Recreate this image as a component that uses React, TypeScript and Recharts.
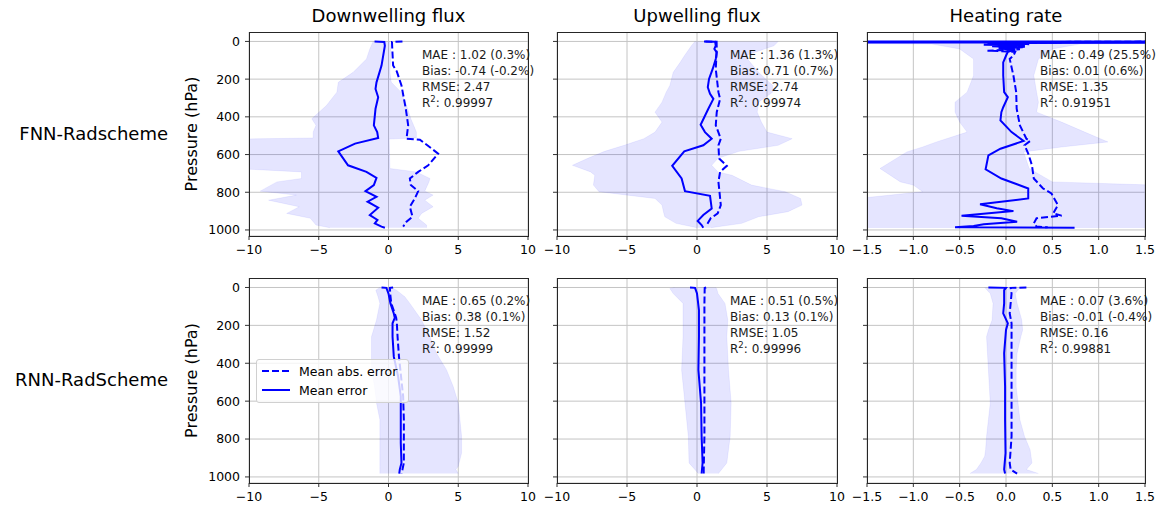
import React from "react";
import { ComposedChart, Line, Area, XAxis, YAxis, CartesianGrid } from "recharts";

type Pt = [number, number];
type Band = [number, number, number];

const P_TICKS = [0, 200, 400, 600, 800, 1000];
const P_DOMAIN = [-50, 1032];
const FLUX_TICKS = [-10, -5, 0, 5, 10];
const HR_TICKS = [-1.5, -1, -0.5, 0, 0.5, 1, 1.5];

const COL_TITLES = ["Downwelling flux", "Upwelling flux", "Heating rate"];
const ROW_LABELS = ["FNN-Radscheme", "RNN-RadScheme"];

// FNN - downwelling flux  [pressure, value]
const FNN_DW_MEAN: Pt[] = [
  [0, -1.0], [3, -0.3], [23, -0.26], [128, -0.5], [217, -0.86], [252, -0.93], [296, -0.74],
  [357, -0.93], [445, -1.05], [481, -0.81], [512, -0.74], [542, -2.4], [583, -3.6], [657, -2.9],
  [692, -1.58], [724, -0.86], [762, -1.05], [794, -1.65], [824, -0.86], [850, -1.5], [882, -0.74],
  [921, -1.34], [947, -0.79], [965, -0.98], [982, -0.5], [988, -0.26],
];
const FNN_DW_MAE: Pt[] = [
  [0, 1.0], [3, 0.25], [23, 0.26], [128, 0.33], [160, 0.6], [234, 0.93], [357, 1.24], [445, 1.41],
  [516, 1.29], [521, 2.25], [595, 3.56], [657, 2.85], [692, 2.13], [727, 1.53], [762, 1.6],
  [794, 2.13], [833, 1.89], [877, 1.53], [930, 1.72], [956, 1.29], [982, 1.05],
];
// [pressure, low, high]
const FNN_DW_BAND: Band[] = [
  [0, -1.1, 0.1], [40, -1.34, 0.15], [93, -1.58, 0.15], [164, -2.54, 0.1], [217, -3.6, 0.2],
  [269, -3.7, 0.9], [340, -4.45, 1.3], [410, -5.5, 1.6], [445, -5.2, 1.8], [481, -5.4, 2.0],
  [512, -5.4, 2.0], [518, -11, 0.05], [674, -11, 0.1], [692, -6.24, 2.0], [727, -6.24, 2.97],
  [745, -8.0, 2.9], [794, -9.2, 2.6], [815, -6.6, 3.2], [842, -8.6, 2.6], [877, -6.4, 3.2],
  [912, -7.3, 2.37], [938, -5.6, 2.13], [974, -5.2, 2.73], [988, -4.2, 2.73],
];

// FNN - upwelling flux
const FNN_UW_MEAN: Pt[] = [
  [0, 0.5], [2, 1.3], [23, 1.34], [40, 1.24], [58, 1.41], [93, 1.34], [146, 1.12], [199, 0.86],
  [243, 0.77], [278, 0.93], [305, 1.17], [357, 0.81], [442, 0.26], [481, 0.57], [516, 1.05],
  [551, 0.45], [583, -0.91], [660, -1.77], [727, -1.1], [794, -0.86], [819, 0.93], [886, 1.05],
  [921, 0.45], [952, 0.05], [974, 0.33], [988, 0.45],
];
const FNN_UW_MAE: Pt[] = [
  [0, 0.6], [2, 1.4], [40, 1.41], [146, 1.34], [269, 1.53], [305, 1.65], [375, 1.41], [445, 1.34],
  [516, 1.7], [551, 1.53], [621, 1.58], [660, 2.13], [692, 1.65], [745, 1.53], [794, 1.6],
  [868, 1.7], [912, 1.48], [938, 0.98], [974, 0.69],
];
const FNN_UW_BAND: Band[] = [
  [0, -0.15, 5.8], [23, -0.4, 5.5], [76, -0.9, 3.4], [111, -1.2, 3.8], [164, -1.7, 4.4],
  [234, -1.94, 5.4], [269, -2.2, 5.4], [322, -2.5, 4.4], [375, -3.0, 4.3], [428, -2.5, 4.6],
  [481, -3.0, 5.0], [516, -3.8, 6.8], [551, -5.2, 5.8], [583, -6.6, 3.0], [620, -7.8, 1.5],
  [657, -8.9, 1.05], [692, -7.6, 1.5], [710, -7.3, 2.5], [762, -7.4, 3.9], [797, -7.0, 6.3],
  [833, -3.0, 7.4], [868, -2.5, 7.5], [903, -2.4, 6.5], [930, -2.3, 4.4], [965, -1.5, 3.2],
  [988, 0, 1.0],
];

// FNN - heating rate
const FNN_HR_MEAN: Pt[] = [
  [0, -2], [1, 2], [2, -2], [3.5, 2], [5, -2], [7, 2], [9, -0.2], [13, 0.22], [17, -0.24],
  [21, 0.2], [26, -0.15], [31, 0.18], [37, -0.08], [44, 0.1], [55, 0.02], [76, 0.0], [111, -0.03],
  [181, -0.03], [269, -0.02], [296, 0.02], [349, -0.03], [375, -0.05], [419, -0.06], [481, 0.06],
  [528, 0.19], [569, -0.06], [604, -0.19], [678, -0.22], [727, -0.05], [780, 0.24], [833, 0.24],
  [864, -0.28], [885, -0.1], [900, 0.08], [924, -0.48], [938, -0.05], [956, 0.12], [970, -0.24],
  [979, -0.35], [985, -0.55], [988, 0.74],
];
const FNN_HR_MAE: Pt[] = [
  [0, 2], [3, 0.3], [6, 0.6], [10, 0.1], [15, 0.25], [20, -0.05], [27, 0.22], [34, 0.05],
  [42, 0.15], [49, -0.2], [55, 0.1], [76, 0.08], [93, 0.04], [181, 0.08], [269, 0.11],
  [357, 0.115], [445, 0.15], [516, 0.22], [528, 0.26], [551, 0.2], [595, 0.24], [657, 0.28],
  [727, 0.3], [780, 0.4], [806, 0.49], [868, 0.56], [912, 0.51], [924, 0.6], [938, 0.33],
  [965, 0.3], [982, 0.33], [986, 0.45],
];
const FNN_HR_BAND: Band[] = [
  [0, -2, 2], [10, -2, 2], [14, -0.8, 0.8], [40, -0.5, 0.5], [93, -0.35, 0.35], [181, -0.35, 0.3],
  [269, -0.42, 0.33], [322, -0.55, 0.35], [375, -0.55, 0.33], [428, -0.5, 0.6], [481, -0.42, 0.85],
  [533, -0.75, 1.1], [560, -0.9, 0.6], [586, -1.07, 0.19], [674, -1.36, 0.25], [745, -1.14, 0.5],
  [762, -1.0, 1.6], [797, -0.9, 1.6], [833, -1.6, 1.6], [990, -1.6, 1.6],
];

// RNN - downwelling flux
const RNN_DW_MEAN: Pt[] = [
  [0, -0.5], [2, -0.15], [32, 0.0], [84, 0.14], [137, 0.38], [160, 0.45], [189, 0.29], [260, 0.29],
  [365, 0.38], [470, 0.69], [575, 0.88], [698, 0.88], [821, 0.88], [926, 0.93], [961, 0.81],
  [982, 0.77],
];
const RNN_DW_MAE: Pt[] = [
  [0, 0.33], [2, 0.1], [32, 0.12], [84, 0.2], [137, 0.45], [160, 0.55], [189, 0.6], [260, 0.65],
  [365, 0.75], [470, 0.9], [575, 1.05], [698, 1.1], [821, 1.1], [926, 1.1], [961, 1.0], [982, 0.93],
];
const RNN_DW_BAND: Band[] = [
  [0, -0.62, 0.2], [14, -0.91, 0.57], [49, -0.75, 1.17], [84, -0.62, 1.53], [172, -0.86, 2.37],
  [260, -1.22, 2.97], [347, -1.22, 3.44], [435, -1.22, 4.16], [523, -1.0, 4.64], [610, -0.86, 5.0],
  [698, -0.62, 5.12], [786, -0.62, 5.24], [874, -0.62, 5.24], [944, -0.62, 5.0], [961, -0.62, 4.83],
  [982, -0.62, 5.0],
];

// RNN - upwelling flux
const RNN_UW_MEAN: Pt[] = [
  [0, -0.5], [2, -0.14], [32, 0.0], [119, 0.14], [260, 0.14], [435, 0.1], [610, 0.29], [786, 0.33],
  [926, 0.4], [982, 0.33],
];
const RNN_UW_MAE: Pt[] = [
  [0, 0.65], [3, 0.55], [84, 0.53], [435, 0.53], [786, 0.53], [961, 0.48], [982, 0.48],
];
const RNN_UW_BAND: Band[] = [
  [0, -1.6, 1.3], [5, -1.94, 1.4], [32, -1.7, 1.5], [84, -1.0, 2.0], [172, -1.0, 2.2],
  [260, -1.0, 2.13], [435, -1.1, 2.25], [610, -0.86, 2.44], [786, -0.62, 2.37], [926, -0.57, 2.13],
  [982, 0.1, 1.53],
];

// RNN - heating rate
const RNN_HR_MEAN: Pt[] = [
  [0, -0.19], [2, 0.0], [14, -0.02], [84, -0.02], [137, -0.03], [189, 0.02], [224, 0.0],
  [347, -0.02], [523, -0.01], [698, -0.01], [874, -0.005], [961, -0.02], [982, -0.01],
];
const RNN_HR_MAE: Pt[] = [
  [0, 0.22], [2, 0.05], [32, 0.06], [137, 0.04], [189, 0.06], [260, 0.06], [435, 0.06], [610, 0.06],
  [786, 0.06], [926, 0.04], [961, 0.05], [982, 0.12],
];
const RNN_HR_BAND: Band[] = [
  [0, -0.23, 0.15], [32, -0.17, 0.1], [84, -0.14, 0.12], [172, -0.15, 0.17], [225, -0.19, 0.18],
  [260, -0.21, 0.16], [347, -0.2, 0.12], [435, -0.19, 0.11], [523, -0.18, 0.11], [610, -0.17, 0.13],
  [698, -0.19, 0.15], [786, -0.21, 0.2], [856, -0.22, 0.26], [891, -0.23, 0.27], [926, -0.27, 0.28],
  [961, -0.32, 0.22], [982, -0.39, 0.35],
];

const FNN_DW_STATS = ["MAE : 1.02 (0.3%)", "Bias: -0.74 (-0.2%)", "RMSE: 2.47", "0.99997"];
const FNN_UW_STATS = ["MAE : 1.36 (1.3%)", "Bias: 0.71 (0.7%)", "RMSE: 2.74", "0.99974"];
const FNN_HR_STATS = ["MAE : 0.49 (25.5%)", "Bias: 0.01 (0.6%)", "RMSE: 1.35", "0.91951"];
const RNN_DW_STATS = ["MAE : 0.65 (0.2%)", "Bias: 0.38 (0.1%)", "RMSE: 1.52", "0.99999"];
const RNN_UW_STATS = ["MAE : 0.51 (0.5%)", "Bias: 0.13 (0.1%)", "RMSE: 1.05", "0.99996"];
const RNN_HR_STATS = ["MAE : 0.07 (3.6%)", "Bias: -0.01 (-0.4%)", "RMSE: 0.16", "0.99881"];

// layout
const PLOT_X = [249, 557, 867];
const PLOT_W = [279, 280, 278];
const PLOT_Y = [32, 278];
const PLOT_H = [204, 205];
const YW = 50;
const XH = 26;
const RM = 14;
const FONT = "DejaVu Sans, sans-serif";
const BLUE = "#0000ff";
const LW = 2;
const DASH = "7 3";

const fluxFmt = (v: number) => (v < 0 ? "\u2212" + Math.abs(v) : String(v));
const hrFmt = (v: number) => (v < 0 ? "\u2212" : "") + Math.abs(v).toFixed(1);
const noLabel = () => "";

interface PanelProps {
  row: number;
  col: number;
  mean: Pt[];
  mae: Pt[];
  band: Band[];
}

function Panel({ row, col, mean, mae, band }: PanelProps) {
  const left = PLOT_X[col];
  const top = PLOT_Y[row];
  const w = PLOT_W[col];
  const h = PLOT_H[row];
  const isHr = col === 2;
  const xMax = isHr ? 1.5 : 10;
  const meanData = mean.map(([p, v]) => ({ p, v }));
  const maeData = mae.map(([p, v]) => ({ p, v }));
  const bandData = band.map(([p, lo, hi]) => ({ p, r: [lo, hi] }));
  const tickStyle = { fontSize: 12.5, fill: "#000", fontFamily: FONT };

  return (
    <div style={{ position: "absolute", left: left - YW, top }}>
      <ComposedChart
        layout="vertical"
        width={YW + w + RM}
        height={h + XH}
        margin={{ top: 0, right: RM, bottom: 0, left: 0 }}
      >
        <CartesianGrid stroke="#c4c4c4" strokeWidth={1} />
        <XAxis
          type="number"
          domain={[-xMax, xMax]}
          ticks={isHr ? HR_TICKS : FLUX_TICKS}
          allowDataOverflow
          interval={0}
          height={XH}
          tickSize={4}
          tickMargin={5}
          axisLine={false}
          tickLine={{ stroke: "#333" }}
          tick={tickStyle}
          tickFormatter={isHr ? hrFmt : fluxFmt}
        />
        <YAxis
          type="number"
          dataKey="p"
          domain={P_DOMAIN}
          ticks={P_TICKS}
          allowDataOverflow
          interval={0}
          width={YW}
          tickSize={4}
          tickMargin={5}
          axisLine={false}
          tickLine={{ stroke: "#333" }}
          tick={tickStyle}
          tickFormatter={col === 0 ? String : noLabel}
        />
        <Area
          data={bandData}
          dataKey="r"
          type="linear"
          fill={BLUE}
          fillOpacity={0.1}
          stroke={BLUE}
          strokeOpacity={0.06}
          isAnimationActive={false}
          dot={false}
          activeDot={false}
        />
        <Line
          data={maeData}
          dataKey="v"
          type="linear"
          stroke={BLUE}
          strokeWidth={LW}
          strokeDasharray={DASH}
          dot={false}
          activeDot={false}
          isAnimationActive={false}
        />
        <Line
          data={meanData}
          dataKey="v"
          type="linear"
          stroke={BLUE}
          strokeWidth={LW}
          dot={false}
          activeDot={false}
          isAnimationActive={false}
        />
      </ComposedChart>
      <div
        style={{
          position: "absolute",
          left: YW - 0.5,
          top: -0.5,
          width: w + 1,
          height: h + 1,
          border: "1px solid #262626",
          boxSizing: "border-box",
          pointerEvents: "none",
        }}
      />
    </div>
  );
}

function Stats({ row, col, lines }: { row: number; col: number; lines: string[] }) {
  const x = PLOT_X[col] + 173;
  const y0 = PLOT_Y[row] + 27;
  return (
    <g fontFamily={FONT} fontSize={12} fill="#1a1a1a">
      <text x={x} y={y0}>{lines[0]}</text>
      <text x={x} y={y0 + 16}>{lines[1]}</text>
      <text x={x} y={y0 + 32}>{lines[2]}</text>
      <text x={x} y={y0 + 48}>
        R<tspan fontSize={8.5} dy={-5}>2</tspan>
        <tspan dy={5}>: {lines[3]}</tspan>
      </text>
    </g>
  );
}

function LegendBox() {
  return (
    <div
      style={{
        position: "absolute",
        left: 256,
        top: 359,
        width: 153,
        height: 44,
        boxSizing: "border-box",
        border: "1px solid #d0d0d0",
        borderRadius: 3,
        background: "rgba(255,255,255,0.8)",
        fontFamily: FONT,
        fontSize: 12.5,
        color: "#000",
      }}
    >
      <svg width={153} height={44} style={{ position: "absolute", left: 0, top: 0 }}>
        <line x1={5} x2={33} y1={11} y2={11} stroke={BLUE} strokeWidth={LW} strokeDasharray={DASH} />
        <line x1={5} x2={33} y1={30} y2={30} stroke={BLUE} strokeWidth={LW} />
        <text x={42} y={15.5} fontFamily={FONT} fontSize={12.5}>Mean abs. error</text>
        <text x={42} y={34.5} fontFamily={FONT} fontSize={12.5}>Mean error</text>
      </svg>
    </div>
  );
}

export default function App() {
  return (
    <div
      style={{
        position: "absolute",
        left: 0,
        top: 0,
        width: 1157,
        height: 506,
        background: "#fff",
        overflow: "hidden",
      }}
    >
      <Panel row={0} col={0} mean={FNN_DW_MEAN} mae={FNN_DW_MAE} band={FNN_DW_BAND} />
      <Panel row={0} col={1} mean={FNN_UW_MEAN} mae={FNN_UW_MAE} band={FNN_UW_BAND} />
      <Panel row={0} col={2} mean={FNN_HR_MEAN} mae={FNN_HR_MAE} band={FNN_HR_BAND} />
      <Panel row={1} col={0} mean={RNN_DW_MEAN} mae={RNN_DW_MAE} band={RNN_DW_BAND} />
      <Panel row={1} col={1} mean={RNN_UW_MEAN} mae={RNN_UW_MAE} band={RNN_UW_BAND} />
      <Panel row={1} col={2} mean={RNN_HR_MEAN} mae={RNN_HR_MAE} band={RNN_HR_BAND} />
      <LegendBox />
      <svg
        width={1157}
        height={506}
        style={{ position: "absolute", left: 0, top: 0, pointerEvents: "none" }}
      >
        {COL_TITLES.map((t, c) => (
          <text
            key={t}
            x={PLOT_X[c] + PLOT_W[c] / 2}
            y={22}
            textAnchor="middle"
            fontFamily={FONT}
            fontSize={18}
            fill="#000"
          >
            {t}
          </text>
        ))}
        {ROW_LABELS.map((t, r) => (
          <g key={t}>
            <text x={168} y={PLOT_Y[r] + 108} textAnchor="end" fontFamily={FONT} fontSize={18} fill="#000">
              {t}
            </text>
            <text
              transform={`translate(197, ${PLOT_Y[r] + PLOT_H[r] / 2}) rotate(-90)`}
              textAnchor="middle"
              fontFamily={FONT}
              fontSize={16}
              fill="#000"
            >
              Pressure (hPa)
            </text>
          </g>
        ))}
        <Stats row={0} col={0} lines={FNN_DW_STATS} />
        <Stats row={0} col={1} lines={FNN_UW_STATS} />
        <Stats row={0} col={2} lines={FNN_HR_STATS} />
        <Stats row={1} col={0} lines={RNN_DW_STATS} />
        <Stats row={1} col={1} lines={RNN_UW_STATS} />
        <Stats row={1} col={2} lines={RNN_HR_STATS} />
      </svg>
    </div>
  );
}
